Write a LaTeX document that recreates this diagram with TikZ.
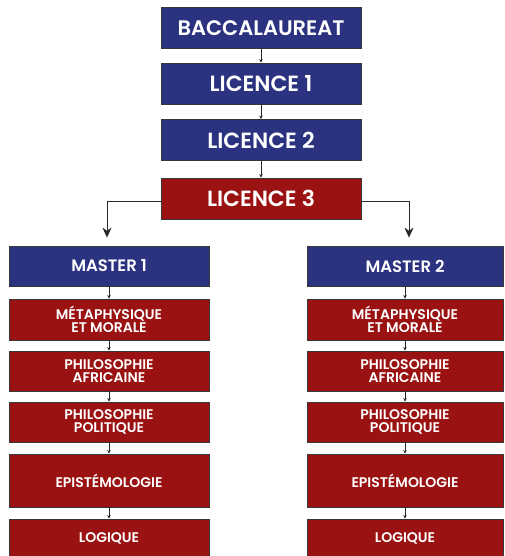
\documentclass[tikz,border=0pt]{standalone}
\usepackage{fontspec}
\setmainfont{Poppins}[BoldFont={* SemiBold}]
\usetikzlibrary{arrows.meta}
\definecolor{nblue}{RGB}{43,50,128}
\definecolor{nred}{RGB}{154,18,18}
\definecolor{edge}{RGB}{55,55,55}
\definecolor{link}{RGB}{40,40,40}
\tikzset{
  box/.style={draw=edge, line width=0.8pt, text=white, inner sep=0pt, align=center, font=\bfseries},
  topbox/.style={box, minimum width=200pt, minimum height=41pt},
  colbox/.style={box, minimum height=40pt},
  bluefill/.style={fill=nblue},
  redfill/.style={fill=nred},
  small/.style={draw=link, line width=0.6pt, -{Stealth[length=3.5pt,width=3.5pt]}},
  big/.style={draw=link, line width=0.9pt, -{Stealth[length=10pt,width=9pt]}, shorten >=8pt},
  sub/.style={font=\bfseries\fontsize{14}{13.5}\selectfont},
  toptext/.style={font=\bfseries\fontsize{22}{24}\selectfont},
  mastertext/.style={font=\bfseries\fontsize{16.5}{18}\selectfont},
}
\begin{document}
\begin{tikzpicture}[x=1pt,y=-1pt]
\useasboundingbox (0,0) rectangle (504,556);
\clip (0,0) rectangle (504,556);
\fill[white] (0,0) rectangle (504,556);
% top chain
\node[topbox,bluefill,font=\bfseries\fontsize{21}{23}\selectfont] (bac) at (261,28) {BACCALAUREAT};
\node[topbox,bluefill,toptext] (l1) at (261,83.5) {LICENCE 1};
\node[topbox,bluefill,toptext] (l2) at (261,140) {LICENCE 2};
\node[topbox,redfill,toptext] (l3) at (261,198.5) {LICENCE 3};
\draw[small] (bac.south) -- (l1.north);
\draw[small] (l1.south) -- (l2.north);
\draw[small] (l2.south) -- (l3.north);
% left column
\begin{scope}[every node/.append style={minimum width=200pt}]
\node[colbox,bluefill,mastertext] (m1) at (109,266) {MASTER 1};
\node[colbox,redfill,sub,minimum height=41pt] (a1) at (109,319.5) {MÉTAPHYSIQUE\\ET MORALE};
\node[colbox,redfill,sub] (b1) at (109,371) {PHILOSOPHIE\\AFRICAINE};
\node[colbox,redfill,sub] (c1) at (109,422) {PHILOSOPHIE\\POLITIQUE};
\node[colbox,redfill,sub,minimum height=53pt] (d1) at (109,480.5) {EPISTÉMOLOGIE};
\node[colbox,redfill,sub,minimum height=38pt] (e1) at (109,538) {LOGIQUE};
\end{scope}
% right column
\begin{scope}[every node/.append style={minimum width=196pt}]
\node[colbox,bluefill,mastertext] (m2) at (405,266) {MASTER 2};
\node[colbox,redfill,sub,minimum height=41pt] (a2) at (405,319.5) {MÉTAPHYSIQUE\\ET MORALE};
\node[colbox,redfill,sub] (b2) at (405,371) {PHILOSOPHIE\\AFRICAINE};
\node[colbox,redfill,sub] (c2) at (405,422) {PHILOSOPHIE\\POLITIQUE};
\node[colbox,redfill,sub,minimum height=53pt] (d2) at (405,480.5) {EPISTÉMOLOGIE};
\node[colbox,redfill,sub,minimum height=38pt] (e2) at (405,538) {LOGIQUE};
\end{scope}
\foreach \c in {1,2}{
  \draw[small] (m\c.south) -- (a\c.north);
  \draw[small] (a\c.south) -- (b\c.north);
  \draw[small] (b\c.south) -- (c\c.north);
  \draw[small] (c\c.south) -- (d\c.north);
  \draw[small] (d\c.south) -- (e\c.north);
}
% branches
\draw[big] ([yshift=-3pt]l3.west) -| ([xshift=-2pt]m1.north);
\draw[big] ([yshift=-3pt]l3.east) -| ([xshift=4pt]m2.north);
\end{tikzpicture}
\end{document}
